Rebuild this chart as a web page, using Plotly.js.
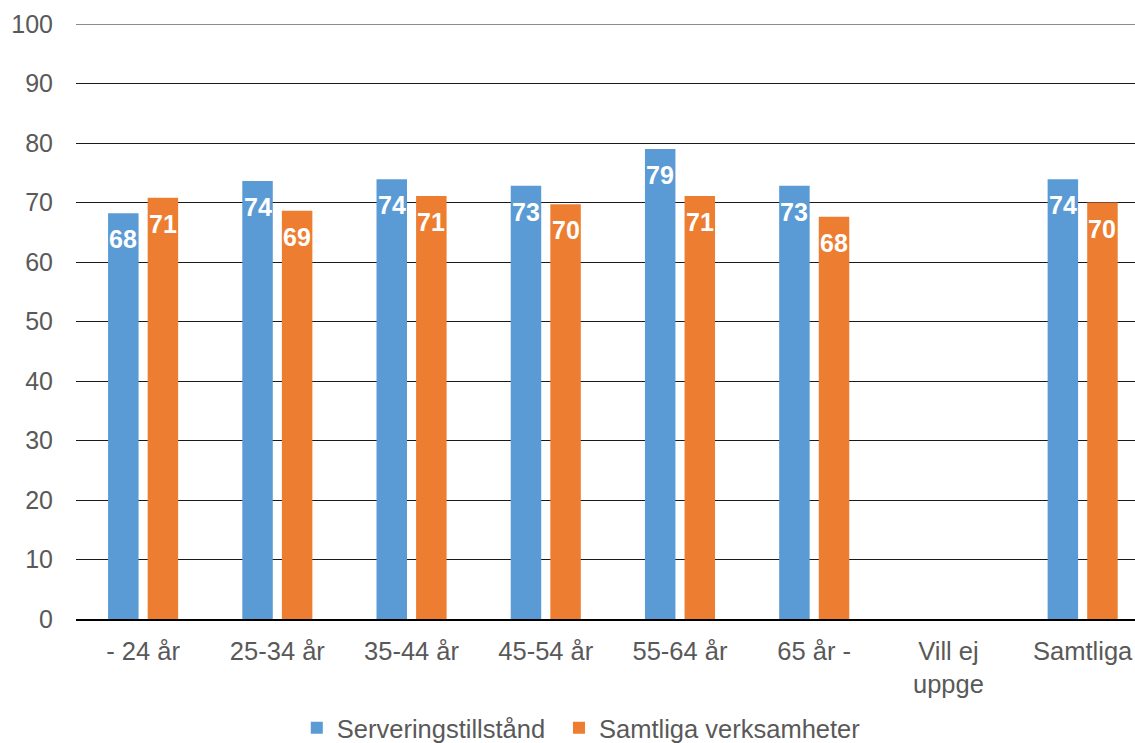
<!DOCTYPE html>
<html>
<head>
<meta charset="utf-8">
<script src="https://cdn.plot.ly/plotly-3.0.1.min.js"></script>
<style>
  html, body { margin: 0; padding: 0; background: #fff; }
  #chart { width: 1135px; height: 743px; }
</style>
</head>
<body>
<div id="chart"></div>
<script>
// Age groups on the x axis
const categories = ['- 24 år', '25-34 år', '35-44 år', '45-54 år', '55-64 år', '65 år -', 'Vill ej<br>uppge', 'Samtliga'];

// Series values (index 0-100)
const serveringValues = [68.2, 73.6, 73.9, 72.8, 79.0, 72.8, null, 73.9];
const samtligaValues  = [70.8, 68.6, 71.1, 69.7, 71.1, 67.6, null, 70.0];

const seriesNames = ['Serveringstillstånd', 'Samtliga verksamheter'];
const seriesColors = ['#5B9BD5', '#ED7D31'];
const yTicks = [0, 10, 20, 30, 40, 50, 60, 70, 80, 90, 100];

const fontFamily = '"Liberation Sans", Arial, sans-serif';
const textGray = '#595959';

const BARGAP = 0.41;
const PLOT_LEFT = 76;
const PLOT_WIDTH = 1135 - PLOT_LEFT;
const X_RANGE = [-0.5, 7.39];

function barTrace(name, values, color, legendId) {
  return {
    type: 'bar',
    name: name,
    x: categories,
    y: values,
    marker: { color: color },
    legend: legendId,
    hoverinfo: 'x+y'
  };
}

const data = [
  barTrace(seriesNames[0], serveringValues, seriesColors[0], 'legend'),
  barTrace(seriesNames[1], samtligaValues, seriesColors[1], 'legend2')
];

// Value labels sit just inside the top of each bar
const pxPerCat = PLOT_WIDTH / (X_RANGE[1] - X_RANGE[0]);
const slotPx = pxPerCat * (1 - BARGAP) / 2;
const annotations = [];
[serveringValues, samtligaValues].forEach((vals, s) => {
  vals.forEach((v, i) => {
    if (v === null) return;
    annotations.push({
      x: categories[i],
      y: v,
      xref: 'x',
      yref: 'y',
      text: String(Math.round(v)),
      showarrow: false,
      xshift: (s === 0 ? -0.5 : 0.5) * slotPx,
      yshift: -26,
      yanchor: 'middle',
      xanchor: 'center',
      font: { family: fontFamily, size: 25, color: '#ffffff', weight: 'bold' }
    });
  });
});

function legendBox(xPos) {
  return {
    orientation: 'h',
    xref: 'container',
    yref: 'container',
    x: xPos,
    xanchor: 'left',
    y: 0.02,
    yanchor: 'middle',
    font: { family: fontFamily, size: 25.5, color: textGray },
    itemwidth: 30
  };
}

const layout = {
  width: 1135,
  height: 743,
  margin: { l: PLOT_LEFT, r: 0, t: 24, b: 124 },
  paper_bgcolor: '#ffffff',
  plot_bgcolor: '#ffffff',
  barmode: 'group',
  bargap: BARGAP,
  bargroupgap: 0.23,
  font: { family: fontFamily, size: 25, color: textGray },
  showlegend: true,
  legend: legendBox(0.2615),
  legend2: legendBox(0.4925),
  xaxis: {
    type: 'category',
    range: X_RANGE,
    automargin: false,
    tickfont: { family: fontFamily, size: 25.5, color: textGray },
    showgrid: false,
    showline: true,
    linecolor: '#000000',
    linewidth: 2,
    ticks: '',
    ticklabelstandoff: 8,
    fixedrange: true
  },
  yaxis: {
    range: [0, 100],
    automargin: false,
    tickvals: yTicks,
    ticktext: yTicks.map(String),
    tickfont: { family: fontFamily, size: 25, color: textGray },
    showgrid: true,
    gridcolor: '#1a1a1a',
    gridwidth: 1,
    zeroline: false,
    showline: false,
    ticks: '',
    ticklabelstandoff: 22,
    fixedrange: true
  },
  // top gridline at the range edge
  shapes: [{
    type: 'line',
    xref: 'paper', x0: 0, x1: 1,
    yref: 'y', y0: yTicks[yTicks.length - 1], y1: yTicks[yTicks.length - 1],
    line: { color: '#1a1a1a', width: 1 },
    layer: 'below'
  }],
  annotations: annotations
};

Plotly.newPlot('chart', data, layout, { displayModeBar: false, staticPlot: true });
</script>
</body>
</html>
